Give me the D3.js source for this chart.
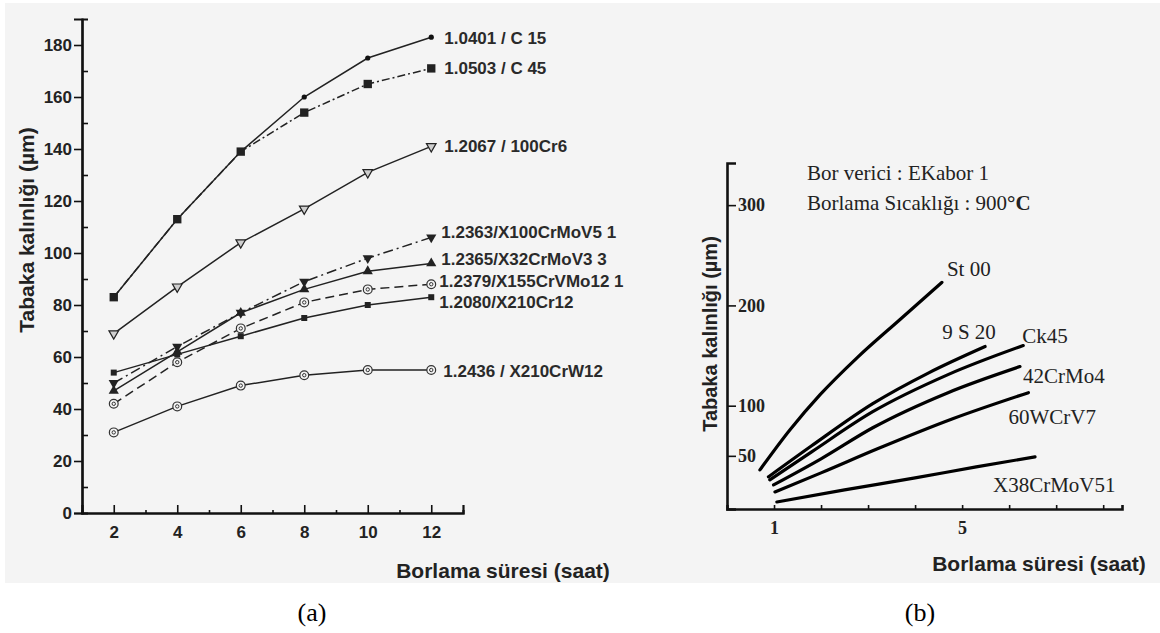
<!DOCTYPE html>
<html>
<head>
<meta charset="utf-8">
<script src="https://cdn.jsdelivr.net/npm/d3@7"></script>
<style>
  body { margin: 0; background: #fff; }
  .sans { font-family: "Liberation Sans", Arial, sans-serif; }
  .serif { font-family: "Liberation Serif", "Times New Roman", serif; }
</style>
</head>
<body>
<svg width="1160" height="633"></svg>
<script>
// ---------- (a) data ----------
var hoursA = [2, 4, 6, 8, 10, 12];
var c15   = [83, 113, 139, 160, 175, 183];
var c45   = [83, 113, 139, 154, 165, 171];
var cr6   = [69, 87, 104, 117, 131, 141];
var x100  = [50, 64, 77, 89, 98, 106];
var x32   = [47, 62, 77, 86, 93, 96];
var x155  = [42, 58, 71, 81, 86, 88];
var x210  = [54, 61, 68, 75, 80, 83];
var x210w = [31, 41, 49, 53, 55, 55];
var namesA = ["1.0401 / C 15", "1.0503 / C 45", "1.2067 / 100Cr6", "1.2363/X100CrMoV5 1",
              "1.2365/X32CrMoV3 3", "1.2379/X155CrVMo12 1", "1.2080/X210Cr12", "1.2436 / X210CrW12"];
var yTicksA = [0, 20, 40, 60, 80, 100, 120, 140, 160, 180];
var yMinorA = [10, 30, 50, 70, 90, 110, 130, 150, 170];
var xTicksA = [2, 4, 6, 8, 10, 12];
var xMinorA = [3, 5, 7, 9, 11];

// ---------- (b) data ----------
var st00T = [0.70, 1.34, 1.98, 2.77, 3.68, 4.57];
var st00V = [36, 76, 111, 148, 186, 223];
var s920T = [0.88, 1.8, 3.1, 4.3, 5.49];
var s920V = [29, 60, 102, 133, 159];
var ck45T = [0.91, 1.8, 3.1, 4.7, 6.3];
var ck45V = [26, 54, 94, 131, 160];
var crmoT = [0.99, 2.0, 3.1, 4.7, 6.23];
var crmoV = [21, 47, 78, 113, 139];
var wcrT  = [1.02, 2.0, 3.2, 4.8, 6.41];
var wcrV  = [14, 33, 57, 87, 113];
var x38T  = [1.06, 2.5, 4.0, 5.3, 6.55];
var x38V  = [4, 16, 28, 39, 49];
var namesB = ["St 00", "9 S 20", "Ck45", "42CrMo4", "60WCrV7", "X38CrMoV51"];
var yTicksB = [50, 100, 200, 300];
var xTicksB = [1, 2, 3, 4, 5, 6, 7, 8];

var svg = d3.select("svg");

// grey scan background
svg.append("rect").attr("x", 5).attr("y", 3).attr("width", 1155).attr("height", 580).attr("fill", "#f4f4f4");

/* ================= panel (a) ================= */
var xA = d3.scaleLinear().domain([1, 13]).range([82, 463]);
var yA = d3.scaleLinear().domain([0, 190]).range([513, 19]);
var gA = svg.append("g").attr("class", "sans");

// axes
gA.append("g").attr("transform", "translate(0," + yA(0) + ")")
  .call(d3.axisBottom(xA).tickValues(xMinorA).tickSize(-3).tickFormat(""));
gA.append("g").attr("transform", "translate(0," + yA(0) + ")")
  .call(d3.axisBottom(xA).tickValues(xTicksA).tickSize(-8).tickPadding(13).tickFormat(d3.format("d")));
gA.append("g").attr("transform", "translate(" + xA(1) + ",0)")
  .call(d3.axisRight(yA).tickValues(yMinorA).tickSize(6).tickFormat(""));
gA.append("g").attr("transform", "translate(" + xA(1) + ",0)")
  .call(d3.axisLeft(yA).tickValues(yTicksA).tickSize(8).tickPadding(2).tickFormat(d3.format("d")));
gA.selectAll(".domain").attr("stroke", "#111").attr("stroke-width", 2.2);
gA.selectAll(".tick line").attr("stroke", "#111").attr("stroke-width", 1.6);
gA.selectAll(".tick text").attr("font-family", "Liberation Sans, Arial, sans-serif")
  .attr("font-size", 17).attr("font-weight", "bold").attr("fill", "#222");

// axis titles
gA.append("text").attr("transform", "translate(26,230) rotate(-90)")
  .attr("text-anchor", "middle").attr("dominant-baseline", "central")
  .attr("font-size", 21).attr("font-weight", "bold").attr("fill", "#222")
  .text("Tabaka kalınlığı (µm)");
gA.append("text").attr("x", 503).attr("y", 578).attr("text-anchor", "middle")
  .attr("font-size", 21).attr("font-weight", "bold").attr("fill", "#222")
  .text("Borlama süresi (saat)");

// series
var seriesA = [
  { v: c15,   dash: null,         mark: "dot" },
  { v: c45,   dash: "8,3,2,3",    mark: "square" },
  { v: cr6,   dash: null,         mark: "opendown" },
  { v: x100,  dash: "10,4,2,4",   mark: "down" },
  { v: x32,   dash: null,         mark: "up" },
  { v: x155,  dash: "9,5",        mark: "ring" },
  { v: x210,  dash: null,         mark: "smallsquare" },
  { v: x210w, dash: null,         mark: "ring" }
];
var labelNudge = [[13, 1], [13, 0], [13, 0], [10, -5], [10, -4], [8, -3], [8, 5], [12, 1]];

var lineA = d3.line().x(function(d) { return xA(d[0]); }).y(function(d) { return yA(d[1]); });

seriesA.forEach(function(s, i) {
  var pts = hoursA.map(function(h, j) { return [h, s.v[j]]; });
  gA.append("path").datum(pts).attr("d", lineA)
    .attr("fill", "none").attr("stroke", "#222").attr("stroke-width", 1.5)
    .attr("stroke-dasharray", s.dash);

  var m = gA.append("g").selectAll("g").data(pts).enter().append("g")
    .attr("transform", function(d) { return "translate(" + xA(d[0]) + "," + yA(d[1]) + ")"; });
  if (s.mark === "dot") {
    m.append("circle").attr("r", 2.6).attr("fill", "#111");
  } else if (s.mark === "square") {
    m.append("path").attr("d", d3.symbol(d3.symbolSquare, 70)).attr("fill", "#222");
  } else if (s.mark === "smallsquare") {
    m.append("path").attr("d", d3.symbol(d3.symbolSquare, 36)).attr("fill", "#222");
  } else if (s.mark === "opendown") {
    m.append("path").attr("d", d3.symbol(d3.symbolTriangle, 40)).attr("transform", "rotate(180)")
      .attr("fill", "#cfcfcf").attr("stroke", "#222").attr("stroke-width", 1.2);
  } else if (s.mark === "down") {
    m.append("path").attr("d", d3.symbol(d3.symbolTriangle, 45)).attr("transform", "rotate(180)").attr("fill", "#222");
  } else if (s.mark === "up") {
    m.append("path").attr("d", d3.symbol(d3.symbolTriangle, 45)).attr("fill", "#222");
  } else if (s.mark === "ring") {
    m.append("circle").attr("r", 4.4).attr("fill", "#f4f4f4").attr("stroke", "#333").attr("stroke-width", 1.2);
    m.append("circle").attr("r", 1.7).attr("fill", "none").attr("stroke", "#333").attr("stroke-width", 1);
  }

  var last = pts[pts.length - 1];
  gA.append("text").attr("x", xA(last[0]) + labelNudge[i][0]).attr("y", yA(last[1]) + labelNudge[i][1])
    .attr("dominant-baseline", "central").attr("font-size", 17).attr("font-weight", "bold")
    .attr("fill", "#2a2a2a").text(namesA[i]);
});

/* ================= panel (b) ================= */
var xB = d3.scaleLinear().domain([0, 8.4]).range([727, 1122]);
var yB = d3.scaleLinear().domain([-3, 342]).range([509, 163]);
var gB = svg.append("g");

gB.append("g").attr("transform", "translate(0," + yB(-3) + ")")
  .call(d3.axisBottom(xB).tickValues(xTicksB).tickSize(-4).tickPadding(12)
    .tickFormat(function(d) { return (d === 1 || d === 5) ? d : ""; }));
gB.append("g").attr("transform", "translate(" + xB(0) + ",0)")
  .call(d3.axisRight(yB).tickValues(yTicksB).tickSize(9).tickPadding(2).tickFormat(d3.format("d")));
gB.selectAll(".domain").attr("stroke", "#111").attr("stroke-width", 2.6);
gB.selectAll(".tick line").attr("stroke", "#111").attr("stroke-width", 1.6);
gB.selectAll(".tick text").attr("font-family", "Liberation Serif, Times New Roman, serif")
  .attr("font-size", 18).attr("font-weight", "bold").attr("fill", "#222");

gB.append("text").attr("class", "sans").attr("transform", "translate(710,334) rotate(-90)")
  .attr("text-anchor", "middle").attr("dominant-baseline", "central")
  .attr("font-size", 20).attr("font-weight", "bold").attr("fill", "#222")
  .text("Tabaka kalınlığı (µm)");
gB.append("text").attr("class", "sans").attr("x", 1039).attr("y", 571).attr("text-anchor", "middle")
  .attr("font-size", 21).attr("font-weight", "bold").attr("fill", "#222")
  .text("Borlama süresi (saat)");

gB.append("text").attr("class", "serif").attr("x", 807).attr("y", 180)
  .attr("font-size", 21).attr("fill", "#222").text("Bor verici : EKabor 1");
var t2 = gB.append("text").attr("class", "serif").attr("x", 807).attr("y", 210)
  .attr("font-size", 21).attr("fill", "#222");
t2.append("tspan").text("Borlama Sıcaklığı : 900");
t2.append("tspan").attr("font-weight", "bold").text("°C");

var seriesB = [[st00T, st00V], [s920T, s920V], [ck45T, ck45V], [crmoT, crmoV], [wcrT, wcrV], [x38T, x38V]];
// label placement relative to the curve end (pixels)
var labelOffB = [[5, -13], [-43, -15], [-1, -10], [3, 9], [-20, 24], [-42, 28]];

var lineB = d3.line().curve(d3.curveMonotoneX)
  .x(function(d) { return xB(d[0]); }).y(function(d) { return yB(d[1]); });

seriesB.forEach(function(s, i) {
  var pts = s[0].map(function(t, j) { return [t, s[1][j]]; });
  gB.append("path").datum(pts).attr("d", lineB)
    .attr("fill", "none").attr("stroke", "#000").attr("stroke-width", 3.2).attr("stroke-linecap", "round");
  var last = pts[pts.length - 1];
  gB.append("text").attr("class", "serif")
    .attr("x", xB(last[0]) + labelOffB[i][0]).attr("y", yB(last[1]) + labelOffB[i][1])
    .attr("dominant-baseline", "central").attr("font-size", 21).attr("fill", "#222")
    .text(namesB[i]);
});

// panel captions
svg.append("text").attr("class", "serif").attr("x", 312).attr("y", 612).attr("text-anchor", "middle")
  .attr("dominant-baseline", "central").attr("font-size", 26).attr("fill", "#000").text("(a)");
svg.append("text").attr("class", "serif").attr("x", 920).attr("y", 612).attr("text-anchor", "middle")
  .attr("dominant-baseline", "central").attr("font-size", 26).attr("fill", "#000").text("(b)");
</script>
</body>
</html>
